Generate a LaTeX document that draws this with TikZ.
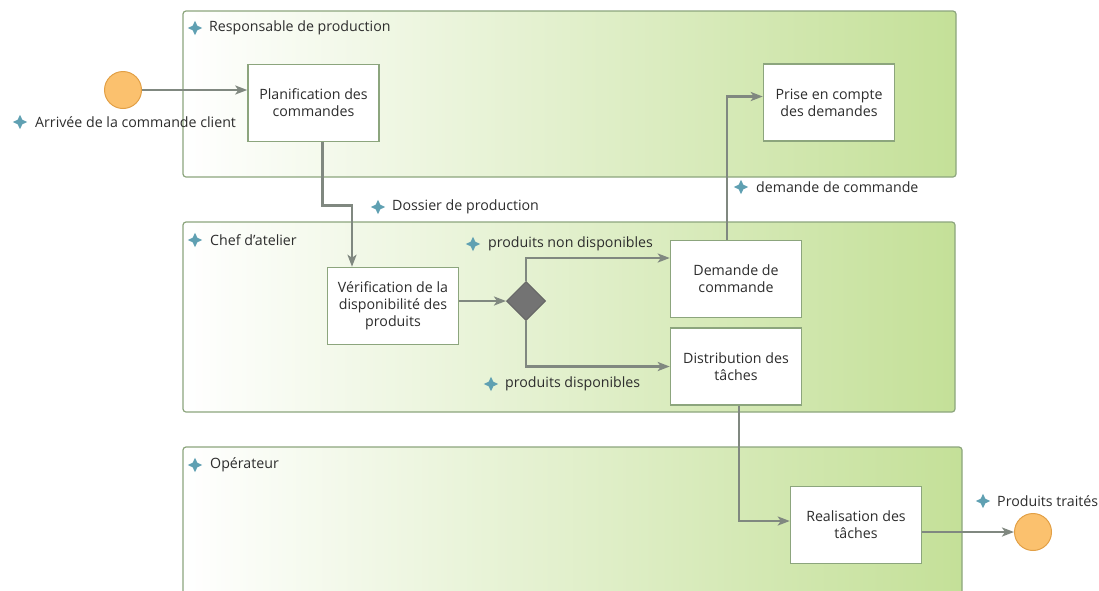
\documentclass[tikz,border=0pt]{standalone}
\usepackage{fontspec}
\setmainfont{Open Sans}
\usetikzlibrary{arrows.meta,shapes.geometric}

\definecolor{vertcl}{RGB}{196,224,152}
\definecolor{bordcl}{RGB}{140,165,125}
\definecolor{fluxcl}{RGB}{128,136,128}
\definecolor{etoilecl}{RGB}{95,160,178}
\definecolor{orangecl}{RGB}{251,193,110}
\definecolor{orangebd}{RGB}{226,160,70}
\definecolor{textecl}{RGB}{45,45,45}

\begin{document}
\begin{tikzpicture}[x=1pt,y=-1pt,
  font=\fontsize{14.2}{17}\selectfont, text=textecl,
  couloir/.style={draw=bordcl,line width=1.2pt,rounded corners=3pt,left color=white,right color=vertcl},
  tache/.style={draw=bordcl,line width=1.5pt,fill=white,minimum width=131pt,minimum height=77pt,align=center,inner sep=2pt},
  evt/.style={circle,draw=orangebd,line width=1pt,fill=orangecl,minimum size=37pt,inner sep=0pt},
  porte/.style={diamond,draw=black!60,line width=1pt,fill=black!55,minimum width=39pt,minimum height=39pt,inner sep=0pt},
  flux/.style={draw=fluxcl,line width=2.5pt,-{Stealth[length=12pt,width=9pt,inset=3pt]}},
  etoile/.style={star,star points=4,star point ratio=0.45,shape border rotate=45,fill=etoilecl,minimum size=6.5pt,inner sep=0pt},
  etiq/.style={anchor=west,inner sep=0pt}]

\useasboundingbox (0,0) rectangle (1099,590);
\clip (0,0) rectangle (1099,590);

% couloirs
\draw[couloir] (183,11) rectangle (956,177);
\draw[couloir] (183,222) rectangle (955,412);
\draw[couloir] (183,447) rectangle (962,610);

\node[etoile] (s1) at (195,28) {};
\node[etiq] (resp) at (209,28) {Responsable de production};
\node[etoile] (s2) at (195,240) {};
\node[etiq] (chef) at (210,240) {Chef d'atelier};
\node[etoile] (s3) at (195,465) {};
\node[etiq] (oper) at (210,465) {Opérateur};

% noeuds
\node[evt] (dep) at (123,90) {};
\node[tache] (plan) at (313.5,103) {Planification des\\commandes};
\node[tache] (prise) at (829,102.5) {Prise en compte\\des demandes};
\node[tache] (verif) at (393,306) {Vérification de la\\disponibilité des\\produits};
\node[porte] (porte) at (526,301) {};
\node[tache] (dmd) at (736,279) {Demande de\\commande};
\node[tache] (distr) at (736,366.5) {Distribution des\\tâches};
\node[tache] (real) at (856,525) {Realisation des\\tâches};
\node[evt] (fin) at (1033,532) {};

% flux
\draw[flux] (dep.east) -- (dep -| plan.west);
\draw[flux] ([xshift=9pt]plan.south) -- ++(0,63) -| ([xshift=-41pt]verif.north);
\draw[flux] (verif.east |- porte) -- (porte.west);
\draw[flux] (porte.north) |- ([yshift=21pt]dmd.west);
\draw[flux] (porte.south) |- (distr.west);
\draw[flux] ([xshift=-9pt]dmd.north) |- ([yshift=6pt]prise.west);
\draw[flux] ([xshift=3pt]distr.south) |- ([yshift=4pt]real.west);
\draw[flux] (real.east |- fin) -- (fin.west);

% etiquettes
\node[etoile] (s4) at (20,122) {};
\node[etiq] (arr) at (35,122) {Arrivée de la commande client};
\node[etoile] (s5) at (378,207) {};
\node[etiq] (doss) at (392,207) {Dossier de production};
\node[etoile] (s6) at (473,244) {};
\node[etiq] (nondisp) at (488,244) {produits non disponibles};
\node[etoile] (s7) at (491,384) {};
\node[etiq] (disp) at (505,384) {produits disponibles};
\node[etoile] (s8) at (741,187) {};
\node[etiq] (dcmd) at (756,187) {demande de commande};
\node[etoile] (s9) at (983,501) {};
\node[etiq] (trait) at (997,501) {Produits traités};
\end{tikzpicture}
\end{document}
